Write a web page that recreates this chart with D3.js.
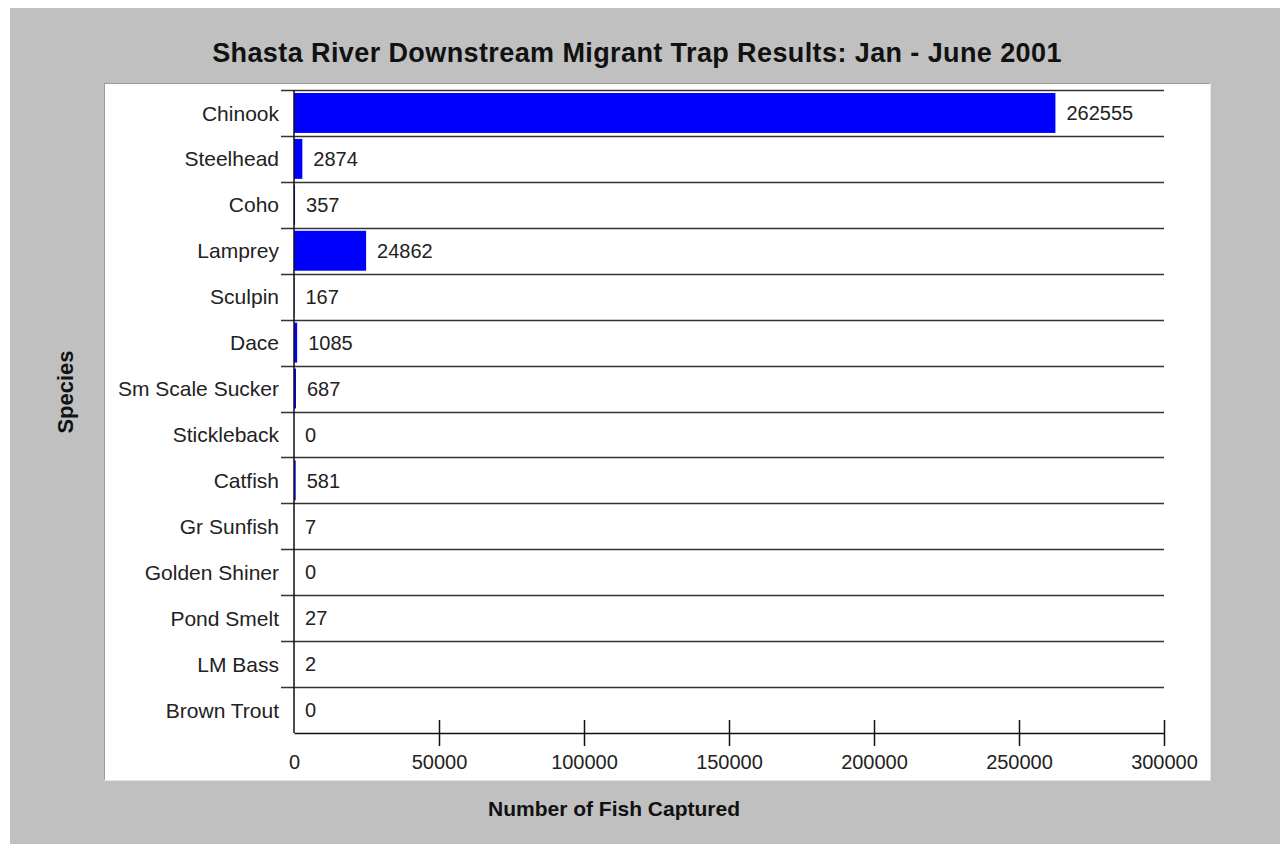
<!DOCTYPE html>
<html>
<head>
<meta charset="utf-8">
<script src="https://cdn.jsdelivr.net/npm/d3@7"></script>
<style>
  html, body { margin: 0; padding: 0; background: #fff; }
  svg { display: block; }
  text { font-family: "Liberation Sans", Arial, sans-serif; }
</style>
</head>
<body>
<script>
// data
const species = ["Chinook", "Steelhead", "Coho", "Lamprey", "Sculpin", "Dace", "Sm Scale Sucker",
    "Stickleback", "Catfish", "Gr Sunfish", "Golden Shiner", "Pond Smelt", "LM Bass", "Brown Trout"]
const captured = [262555, 2874, 357, 24862, 167, 1085, 687, 0, 581, 7, 0, 27, 2, 0]
const xTicks = [0, 50000, 100000, 150000, 200000, 250000, 300000]

const W = 1280, H = 844
const padL = 294, padR = 1164, padT = 90, padB = 733

const svg = d3.select("body").append("svg")
    .attr("width", W)
    .attr("height", H)

// grey backdrop and white plot panel
svg.append("rect").attr("x", 10).attr("y", 8).attr("width", W - 10).attr("height", H - 8).attr("fill", "#c0c0c0")
svg.append("rect").attr("x", 104).attr("y", 83).attr("width", 1107).attr("height", 698).attr("fill", "#fff")
svg.append("line").attr("x1", 104).attr("x2", 1211).attr("y1", 83.5).attr("y2", 83.5).attr("stroke", "#9a9a9a")
svg.append("line").attr("x1", 104.5).attr("x2", 104.5).attr("y1", 83).attr("y2", 781).attr("stroke", "#9a9a9a")
svg.append("line").attr("x1", 104).attr("x2", 1211).attr("y1", 780.5).attr("y2", 780.5).attr("stroke", "#e4e4e4")
svg.append("line").attr("x1", 1210.5).attr("x2", 1210.5).attr("y1", 83).attr("y2", 781).attr("stroke", "#e4e4e4")

const data = species.map((s, i) => ({ name: s, value: captured[i] }))

const x = d3.scaleLinear().domain([0, 300000]).range([padL, padR])
const y = d3.scaleBand().domain(species).range([padT, padB])

// row separators
svg.append("g").selectAll("line")
    .data(species)
    .enter()
    .append("line")
    .attr("x1", 281)
    .attr("x2", padR)
    .attr("y1", d => Math.round(y(d)) + 0.5)
    .attr("y2", d => Math.round(y(d)) + 0.5)
    .attr("stroke", "#333")
    .attr("stroke-width", 1.5)

// bars
svg.append("g").selectAll("rect")
    .data(data)
    .enter()
    .append("rect")
    .attr("x", padL)
    .attr("y", d => y(d.name) + 3)
    .attr("width", d => x(d.value) - padL)
    .attr("height", y.bandwidth() - 6)
    .attr("fill", "#0000ff")

// value labels
svg.append("g").selectAll("text")
    .data(data)
    .enter()
    .append("text")
    .attr("x", d => x(d.value) + 11)
    .attr("y", d => y(d.name) + y.bandwidth() / 2)
    .attr("dy", "0.36em")
    .attr("font-size", 20)
    .attr("fill", "#222")
    .text(d => d.value)

// y axis (category labels)
const yAxis = d3.axisLeft(y).tickSize(0).tickPadding(15)
const gy = svg.append("g").attr("transform", "translate(" + padL + ",0)").call(yAxis)
gy.select(".domain").remove()
gy.selectAll("text")
    .attr("font-family", "Liberation Sans, Arial, sans-serif")
    .attr("font-size", 21)
    .attr("fill", "#222")
    .attr("dy", "0.36em")

svg.append("line")
    .attr("x1", padL).attr("x2", padL)
    .attr("y1", padT).attr("y2", padB)
    .attr("stroke", "#111").attr("stroke-width", 1.5)

// x axis
const xAxis = d3.axisBottom(x).tickValues(xTicks).tickFormat(d3.format("d")).tickSize(13).tickSizeOuter(0)
const gx = svg.append("g").attr("transform", "translate(0," + padB + ")").call(xAxis)
gx.select(".domain").attr("stroke", "#111").attr("stroke-width", 1.5)
gx.selectAll(".tick line")
    .attr("y1", -13)
    .attr("stroke", "#111")
    .attr("stroke-width", 1.5)
    .filter(d => d === 0).remove()
gx.selectAll(".tick text")
    .attr("y", 29)
    .attr("dy", "0.36em")
    .attr("font-family", "Liberation Sans, Arial, sans-serif")
    .attr("font-size", 20)
    .attr("fill", "#222")

// titles
svg.append("text")
    .attr("x", 637)
    .attr("y", 52)
    .attr("dy", "0.36em")
    .attr("text-anchor", "middle")
    .attr("font-size", 27)
    .attr("font-weight", "bold")
    .attr("letter-spacing", 0.4)
    .attr("fill", "#111")
    .text("Shasta River Downstream Migrant Trap Results: Jan - June 2001")

svg.append("text")
    .attr("x", 614)
    .attr("y", 808)
    .attr("dy", "0.36em")
    .attr("text-anchor", "middle")
    .attr("font-size", 21)
    .attr("font-weight", "bold")
    .attr("fill", "#111")
    .text("Number of Fish Captured")

svg.append("text")
    .attr("transform", "translate(65,392) rotate(-90)")
    .attr("dy", "0.36em")
    .attr("text-anchor", "middle")
    .attr("font-size", 22)
    .attr("font-weight", "bold")
    .attr("fill", "#111")
    .text("Species")
</script>
</body>
</html>
